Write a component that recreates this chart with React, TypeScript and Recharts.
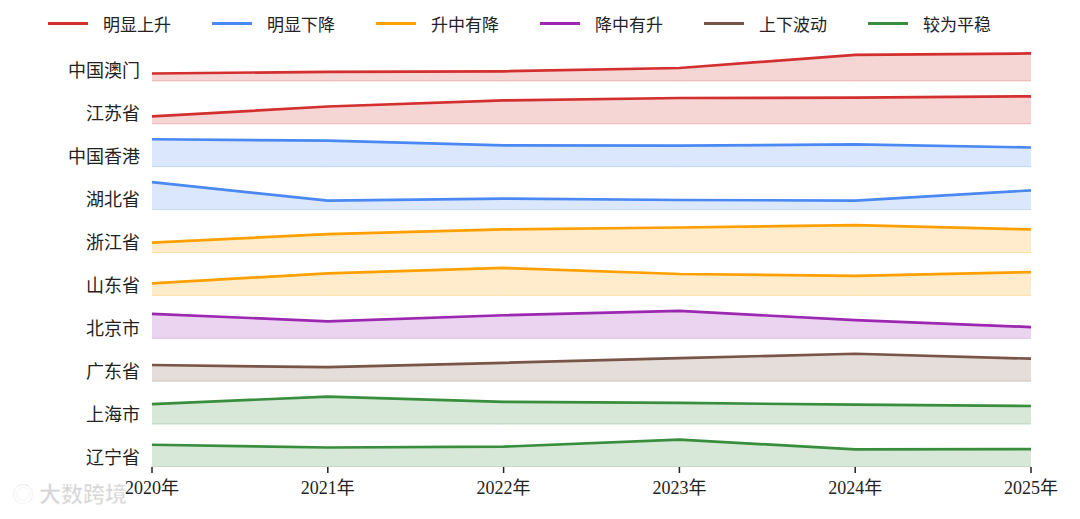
import React from "react";
import { ComposedChart, Area, Line, XAxis, YAxis, Legend } from "recharts";

// Years on the x axis
const YEARS = [2020, 2021, 2022, 2023, 2024, 2025];

// Rows from top to bottom
const ROWS = ["中国澳门", "江苏省", "中国香港", "湖北省", "浙江省", "山东省", "北京市", "广东省", "上海市", "辽宁省"];

// Trend category of each row
const ROW_TREND = ["明显上升", "明显上升", "明显下降", "明显下降", "升中有降", "升中有降", "降中有升", "上下波动", "较为平稳", "较为平稳"];

// Legend categories and colours
const TRENDS = ["明显上升", "明显下降", "升中有降", "降中有升", "上下波动", "较为平稳"];
const TREND_COLORS = ["#D32F2F", "#4A89F3", "#FFA000", "#9C27B0", "#795548", "#388E3C"];

// Values per row (index relative to each row's maximum = 100)
const MACAO = [27, 33, 35, 47, 95, 100];
const JIANGSU = [27, 63, 85, 94, 95, 100];
const HONGKONG = [100, 95, 78, 77, 81, 70];
const HUBEI = [100, 33, 40, 35, 33, 70];
const ZHEJIANG = [36, 67, 84, 91, 100, 84];
const SHANDONG = [44, 80, 100, 78, 71, 85];
const BEIJING = [89, 62, 84, 100, 66, 41];
const GUANGDONG = [59, 51, 67, 84, 100, 82];
const SHANGHAI = [73, 100, 81, 77, 71, 66];
const LIAONING = [81, 71, 74, 100, 64, 65];

const SERIES = [MACAO, JIANGSU, HONGKONG, HUBEI, ZHEJIANG, SHANDONG, BEIJING, GUANGDONG, SHANGHAI, LIAONING];

const RIDGE = 0.64 / 100; // ridge height per unit value (fraction of a row)
const LABEL_LIFT = 0.23;

const data = YEARS.map((y, i) => {
  const row: Record<string, number> = { year: y };
  ROWS.forEach((name, r) => {
    row[name] = SERIES[r][i];
  });
  return row;
});

const N = ROWS.length;
const baseOf = (r: number) => N - 1 - r;

const FONT = "'Liberation Serif', 'DejaVu Serif', 'Noto Sans CJK SC', serif";

const colorOf = (r: number) => TREND_COLORS[TRENDS.indexOf(ROW_TREND[r])];

const LegendContent = () => (
  <div style={{ display: "flex", height: 30, alignItems: "center", paddingLeft: 40, fontFamily: FONT }}>
    {TRENDS.map((t, i) => (
      <div key={t} style={{ width: 164, display: "flex", alignItems: "center", flexShrink: 0 }}>
        <div style={{ width: 40, height: 3, background: TREND_COLORS[i], marginRight: 15 }} />
        <span style={{ fontSize: 17, color: "#222" }}>{t}</span>
      </div>
    ))}
  </div>
);

export default function App() {
  return (
    <ComposedChart
      width={1064}
      height={503}
      data={data}
      margin={{ top: 0, right: 41, bottom: 14, left: 44 }}
      style={{ fontFamily: FONT }}
    >
      <Legend verticalAlign="top" align="left" height={30} content={<LegendContent />} wrapperStyle={{ left: 0, top: 0, width: 1064 }} />
      <XAxis
        dataKey="year"
        type="number"
        domain={[YEARS[0], YEARS[YEARS.length - 1]]}
        ticks={YEARS}
        tickFormatter={(v: number) => `${v}年`}
        axisLine={false}
        tickLine={{ stroke: "#222", strokeWidth: 1.5 }}
        tickSize={6}
        tickMargin={8}
        height={30}
        tick={{ fontSize: 18, fill: "#222", fontFamily: FONT }}
        interval={0}
      />
      <YAxis
        type="number"
        domain={[0, N]}
        allowDataOverflow
        ticks={ROWS.map((_, r) => baseOf(r) + LABEL_LIFT)}
        tickFormatter={(v: number) => ROWS[N - 1 - Math.floor(v)]}
        axisLine={false}
        tickLine={false}
        tickSize={0}
        tickMargin={12}
        width={100}
        interval={0}
        tick={{ fontSize: 18, fill: "#222", fontFamily: FONT }}
      />
      {ROWS.map((name, r) => (
        <Area
          key={`a-${name}`}
          type="linear"
          dataKey={(d: any) => [baseOf(r), baseOf(r) + d[name] * RIDGE]}
          stroke={colorOf(r)}
          strokeOpacity={0.25}
          strokeWidth={1}
          fill={colorOf(r)}
          fillOpacity={0.2}
          isAnimationActive={false}
          dot={false}
          activeDot={false}
        />
      ))}
      {ROWS.map((name, r) => (
        <Line
          key={`l-${name}`}
          type="linear"
          dataKey={(d: any) => baseOf(r) + d[name] * RIDGE}
          stroke={colorOf(r)}
          strokeWidth={2.7}
          dot={false}
          activeDot={false}
          isAnimationActive={false}
        />
      ))}
      <text x={4} y={494} fontSize={22} fontWeight="bold" fill="#d0d0d0" stroke="#ffffff" strokeWidth={0.6} fontFamily="'Noto Sans CJK SC', sans-serif" opacity={0.85}>
        ◎ 大数跨境
      </text>
    </ComposedChart>
  );
}
